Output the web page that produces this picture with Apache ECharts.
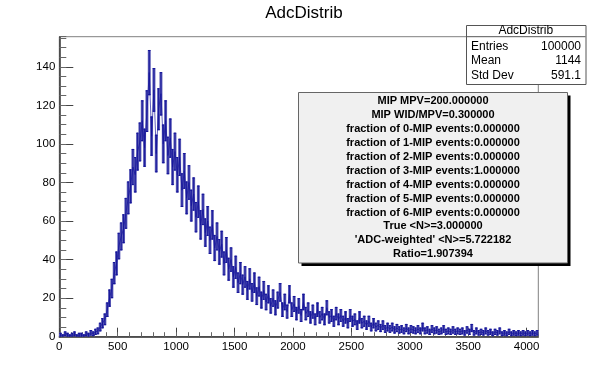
<!DOCTYPE html>
<html>
<head>
<meta charset="utf-8">
<script src="https://cdn.jsdelivr.net/npm/echarts@6/dist/echarts.min.js"></script>
<style>
html,body{margin:0;padding:0;background:#fff;}
#chart{width:598px;height:375px;}
</style>
</head>
<body>
<div id="chart"></div>
<script>
// ---- data (counts per bin, bins of 20 ADC units from 0 to 4100) ----
const binStart = 0;
const binWidth = 20;
const counts = [
  1, 0.5, 1.5, 1, 0.5, 1, 1.5, 0.5, 1, 1, 0.5, 1.5, 1, 2, 1.5,
  2.5, 3, 5, 7, 9, 14, 20, 25, 33, 38, 47, 52, 56, 64, 72,
  78, 88, 84, 96, 101, 112, 98, 117, 137, 104, 128, 95, 118, 126, 100,
  112, 94, 103, 88, 96, 84, 93, 76, 86, 72, 80, 68, 74, 62, 70,
  58, 66, 54, 60, 50, 58, 46, 52, 44, 48, 38, 45, 35, 40, 31,
  36, 28, 33, 27, 31, 24, 30, 23, 28, 21, 26, 19, 24, 18, 22,
  16, 20, 15, 19, 23, 14, 18, 13, 22, 14, 17, 12, 16, 11, 18,
  12, 14, 10, 13, 9, 14, 10, 12, 9, 15, 10, 11, 8, 12, 9,
  11, 8, 10, 7, 11, 8, 9, 6, 10, 7, 8, 6, 8, 5, 7,
  5, 6, 4.5, 6, 4, 5, 4, 5, 3.5, 4.5, 3.5, 4, 3, 4.5, 3,
  4, 3.5, 3, 4, 3, 5, 3, 3.5, 2.5, 4, 3, 3.5, 2.5, 3, 4,
  2.5, 3, 2.5, 3.5, 2.5, 3, 2.5, 3, 2, 3.5, 2.5, 4.5, 2, 3, 2,
  2.5, 2, 3, 2, 2.5, 1.5, 2.5, 2, 3, 1.5, 2, 1.5, 2.5, 1.5, 2,
  1.5, 2, 1.5, 2, 1.5, 2, 1.5, 2, 1.5, 2
];
const xTicksMajor = [0, 500, 1000, 1500, 2000, 2500, 3000, 3500, 4000];
const yTicksMajor = [0, 20, 40, 60, 80, 100, 120, 140];
const titleText = 'AdcDistrib';
const statsRows = [['Entries', '100000'], ['Mean', '1144'], ['Std Dev', '591.1']];
const fitLines = [
  'MIP MPV=200.000000',
  'MIP WID/MPV=0.300000',
  'fraction of 0-MIP events:0.000000',
  'fraction of 1-MIP events:0.000000',
  'fraction of 2-MIP events:0.000000',
  'fraction of 3-MIP events:1.000000',
  'fraction of 4-MIP events:0.000000',
  'fraction of 5-MIP events:0.000000',
  'fraction of 6-MIP events:0.000000',
  'True <N>=3.000000',
  "'ADC-weighted' <N>=5.722182",
  'Ratio=1.907394'
];

const FONT = 'Liberation Sans, Arial, Helvetica, sans-serif';
const light = '#5656b4';
const dark = '#14149a';
const xMax = 4100, yMax = 155.6;

const histData = counts.map((c, i) => [binStart + i * binWidth + binWidth / 2, c, Math.sqrt(c)]);
const lineData = histData.map(d => [d[0], d[1]]);

const chart = echarts.init(document.getElementById('chart'), null, {renderer: 'canvas'});

const graphics = [];
graphics.push({type: 'text', x: 304, y: 13.5, z: 100,
  style: {text: titleText, font: '17px ' + FONT, fill: '#000', textAlign: 'center', textVerticalAlign: 'middle'}});
// stats box
const sb = {x0: 466, y0: 25, x1: 585.5, y1: 84, sep: 36.7};
graphics.push({type: 'rect', z: 100, shape: {x: sb.x0 + 0.5, y: sb.y0 + 0.5, width: sb.x1 - sb.x0, height: sb.y1 - sb.y0},
  style: {fill: '#fff', stroke: '#555', lineWidth: 1}});
graphics.push({type: 'line', z: 101, shape: {x1: sb.x0, y1: sb.sep, x2: sb.x1, y2: sb.sep}, style: {stroke: '#555', lineWidth: 1}});
graphics.push({type: 'text', z: 102, x: (sb.x0 + sb.x1) / 2, y: 31,
  style: {text: titleText, font: '12px ' + FONT, fill: '#000', textAlign: 'center', textVerticalAlign: 'middle'}});
const rowY = [46.5, 61, 75.5];
statsRows.forEach((r, i) => {
  graphics.push({type: 'text', z: 102, x: 471, y: rowY[i],
    style: {text: r[0], font: '12px ' + FONT, fill: '#000', textAlign: 'left', textVerticalAlign: 'middle'}});
  graphics.push({type: 'text', z: 102, x: 581, y: rowY[i],
    style: {text: r[1], font: '12px ' + FONT, fill: '#000', textAlign: 'right', textVerticalAlign: 'middle'}});
});
// fit box with shadow
const fb = {x0: 298.5, y0: 92.5, x1: 567.5, y1: 263};
graphics.push({type: 'rect', z: 99, shape: {x: fb.x0 + 3, y: fb.y0 + 3, width: fb.x1 - fb.x0, height: fb.y1 - fb.y0},
  style: {fill: '#000'}});
graphics.push({type: 'rect', z: 100, shape: {x: fb.x0, y: fb.y0, width: fb.x1 - fb.x0, height: fb.y1 - fb.y0},
  style: {fill: '#f0f0f0', stroke: '#666', lineWidth: 1}});
fitLines.forEach((t, i) => {
  graphics.push({type: 'text', z: 102, x: (fb.x0 + fb.x1) / 2, y: 100.8 + i * 13.96,
    style: {text: t, font: 'bold 11px ' + FONT, fill: '#000', textAlign: 'center', textVerticalAlign: 'middle'}});
});

const axisLabelStyle = {fontSize: 11.5, color: '#000', fontFamily: FONT};

chart.setOption({
  animation: false,
  backgroundColor: '#fff',
  grid: {left: 59.3, right: 59.7, top: 36.7, bottom: 38.3, show: true, borderColor: '#808080', borderWidth: 1, backgroundColor: 'transparent'},
  xAxis: [
    {type: 'value', min: 0, max: xMax, interval: 500, position: 'bottom',
      axisLine: {show: true, onZero: false, lineStyle: {color: '#333', width: 1.5}},
      axisTick: {show: true, inside: true, length: 9, lineStyle: {color: '#444'}},
      axisLabel: {show: true, margin: 4, showMaxLabel: false, formatter: v => xTicksMajor.includes(v) ? String(v) : '', ...axisLabelStyle},
      splitLine: {show: false}},
    {type: 'value', min: 0, max: xMax, interval: 100, position: 'bottom',
      axisLine: {show: false, onZero: false},
      axisTick: {show: true, inside: true, length: 4.5, lineStyle: {color: '#666'}},
      axisLabel: {show: false}, splitLine: {show: false}}
  ],
  yAxis: [
    {type: 'value', min: 0, max: yMax, interval: 20, position: 'left',
      axisLine: {show: true, onZero: false, lineStyle: {color: '#333', width: 1.5}},
      axisTick: {show: true, inside: true, length: 14, lineStyle: {color: '#444'}},
      axisLabel: {show: true, margin: 4, showMaxLabel: false, formatter: v => yTicksMajor.includes(v) ? String(v) : '', ...axisLabelStyle},
      splitLine: {show: false}},
    {type: 'value', min: 0, max: yMax, interval: 5, position: 'left',
      axisLine: {show: false, onZero: false},
      axisTick: {show: true, inside: true, length: 7, lineStyle: {color: '#666'}},
      axisLabel: {show: false}, splitLine: {show: false}}
  ],
  series: [
    {type: 'custom', xAxisIndex: 0, yAxisIndex: 0, clip: true, z: 2,
      data: histData,
      encode: {x: 0, y: 1},
      renderItem: function (params, api) {
        const x = api.value(0), v = api.value(1), e = api.value(2);
        const top = api.coord([x - binWidth * 0.5, v + e]);
        const bot = api.coord([x + binWidth * 0.5, Math.max(v - e, 0)]);
        const c = api.coord([x, v]);
        return {type: 'group', children: [
          {type: 'rect', shape: {x: top[0] - 0.3, y: top[1], width: bot[0] - top[0] + 0.6, height: bot[1] - top[1]}, style: {fill: light}},
          {type: 'line', shape: {x1: c[0], y1: top[1], x2: c[0], y2: bot[1]}, style: {stroke: dark, lineWidth: 0.9}},
          {type: 'line', shape: {x1: top[0], y1: top[1] + 0.5, x2: bot[0], y2: top[1] + 0.5}, style: {stroke: dark, lineWidth: 1}},
          {type: 'line', shape: {x1: top[0], y1: bot[1] - 0.5, x2: bot[0], y2: bot[1] - 0.5}, style: {stroke: dark, lineWidth: 1}}
        ]};
      }},
    {type: 'line', xAxisIndex: 0, yAxisIndex: 0, data: lineData, showSymbol: false, z: 3,
      lineStyle: {color: dark, width: 0.8, opacity: 0.85}}
  ],
  graphic: graphics
});
</script>
</body>
</html>
